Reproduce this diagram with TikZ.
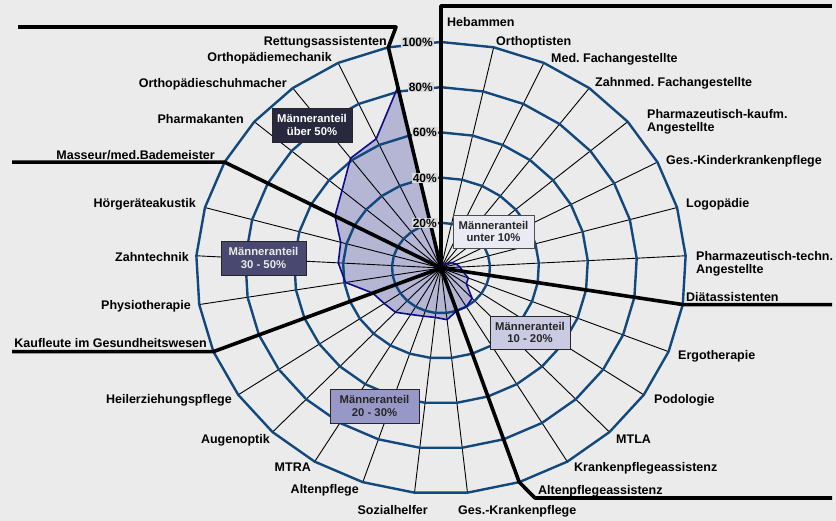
\documentclass[tikz,border=0pt]{standalone}
\usepackage{fontspec}
\setmainfont{Liberation Sans}
\usepackage{tikz}

\definecolor{bgcol}{RGB}{235,235,235}
\definecolor{ringcol}{RGB}{18,72,124}
\definecolor{areacol}{RGB}{181,181,212}
\definecolor{arealine}{RGB}{12,12,140}
\definecolor{pctbg}{RGB}{218,218,218}
\definecolor{grpA}{RGB}{40,40,62}
\definecolor{grpB}{RGB}{72,72,112}
\definecolor{grpC}{RGB}{152,152,200}
\definecolor{grpD}{RGB}{202,202,226}
\definecolor{grpE}{RGB}{234,234,244}

\begin{document}
\begin{tikzpicture}[x=1pt, y=-1pt,
    lab/.style={font=\fontsize{12.5}{13.3}\selectfont\bfseries, inner sep=0pt},
    pct/.style={font=\fontsize{12}{13}\selectfont\bfseries, fill=pctbg, inner sep=1pt, anchor=east},
    grp/.style={draw=black!85, line width=0.9pt, align=center, inner sep=0pt,
        font=\fontsize{11.3}{12.7}\selectfont\bfseries},
    ring/.style={draw=ringcol, line width=2.4pt, line join=round},
    spoke/.style={draw=black, line width=0.9pt},
    sep/.style={draw=black, line width=3.6pt, line join=round}]

  \fill[bgcol] (0,0) rectangle (836,521);
  \useasboundingbox (0,0) rectangle (836,521);

  \coordinate (ctr) at (441,268);
  \coordinate (eL) at (12,0);
  \coordinate (eR) at (832,0);

  % Grid and data
  \begin{scope}[shift={(ctr)}, x=245pt, y=226pt]
    \foreach \i in {0,...,28}
      \coordinate (s\i) at ({90-\i*360/29}:1);
    \foreach \v [count=\i from 0] in {1,3,2,2,3,5,6.5,7.8,9,12,12.5,18.5,20,20,23,22,22.5,24,27,28,30,39.5,42,42.5,49,53,61,63,82}
      \coordinate (d\i) at ({90-\i*360/29}:{\v/100});
    \fill[areacol] (d0) \foreach \i in {1,...,28}{ -- (d\i)} -- cycle;
    \foreach \i in {0,...,28}
      \draw[spoke] (0,0) -- (s\i);
    \foreach \k in {1,...,5}
      \draw[ring] (90:{\k/5}) \foreach \i in {1,...,28}{ -- ({90-\i*360/29}:{\k/5})} -- cycle;
    \draw[arealine, line width=1.6pt, line join=round] (d0) \foreach \i in {1,...,28}{ -- (d\i)} -- cycle;
  \end{scope}

  % Group borders
  \coordinate (h1) at (441,6);
  \coordinate (r1) at (396,27);
  \coordinate (r2) at (18,27);
  \coordinate (a1) at (535,498);
  \draw[sep] (ctr) -- (s0) -- (h1) -- (h1 -| eR);
  \draw[sep] (ctr) -- (s28) -- (r1) -- (r2);
  \draw[sep] (ctr) -- (s24) -- (s24 -| eL);
  \draw[sep] (ctr) -- (s20) -- (s20 -| eL);
  \draw[sep] (ctr) -- (s8) -- (s8 -| eR);
  \draw[sep] (ctr) -- (s13) -- (a1) -- (a1 -| eR);

  % Scale
  \node[pct] (p100) at (434,42) {100\%};
  \node[pct] (p80) at (434,87) {80\%};
  \node[pct] (p60) at (438,132) {60\%};
  \node[pct] (p40) at (438,178) {40\%};
  \node[pct] (p20) at (438,223) {20\%};

  % Labels
  \node[lab, anchor=base west] (l0) at (447,26.5) {Hebammen};
  \node[lab, anchor=base west] (l1) at (496,45.5) {Orthoptisten};
  \node[lab, anchor=base west] (l2) at (551,62.5) {Med.\ Fachangestellte};
  \node[lab, anchor=base west] (l3) at (595,86.5) {Zahnmed.\ Fachangestellte};
  \node[lab, anchor=west, align=left] (l4) at (647,122) {Pharmazeutisch-kaufm.\\Angestellte};
  \node[lab, anchor=base west] (l5) at (666,164.5) {Ges.-Kinderkrankenpflege};
  \node[lab, anchor=base west] (l6) at (686,207.5) {Logopädie};
  \node[lab, anchor=west, align=left] (l7) at (696,264) {Pharmazeutisch-techn.\\Angestellte};
  \node[lab, anchor=base west] (l8) at (686,301.5) {Diätassistenten};
  \node[lab, anchor=base west] (l9) at (678,360) {Ergotherapie};
  \node[lab, anchor=base west] (l10) at (654,403) {Podologie};
  \node[lab, anchor=base west] (l11) at (616,443) {MTLA};
  \node[lab, anchor=base west] (l12) at (574,471.5) {Krankenpflegeassistenz};
  \node[lab, anchor=base west] (l13) at (538,494.5) {Altenpflegeassistenz};
  \node[lab, anchor=base west] (l14) at (458,514.5) {Ges.-Krankenpflege};
  \node[lab, anchor=base east] (l15) at (428,514.5) {Sozialhelfer};
  \node[lab, anchor=base east] (l16) at (359,493.5) {Altenpflege};
  \node[lab, anchor=base east] (l17) at (311,471.5) {MTRA};
  \node[lab, anchor=base east] (l18) at (270,443) {Augenoptik};
  \node[lab, anchor=base east] (l19) at (232,403) {Heilerziehungspflege};
  \node[lab, anchor=base east] (l20) at (207,347.5) {Kaufleute im Gesundheitswesen};
  \node[lab, anchor=base east] (l21) at (191,310) {Physiotherapie};
  \node[lab, anchor=base east] (l22) at (189,261.5) {Zahntechnik};
  \node[lab, anchor=base east] (l23) at (196,208) {Hörgeräteakustik};
  \node[lab, anchor=base east] (l24) at (215,160) {Masseur/med.Bademeister};
  \node[lab, anchor=base east] (l25) at (244,124) {Pharmakanten};
  \node[lab, anchor=base east] (l26) at (287,87.5) {Orthopädieschuhmacher};
  \node[lab, anchor=base east] (l27) at (332,61.5) {Orthopädiemechanik};
  \node[lab, anchor=base east] (l28) at (387,45.5) {Rettungsassistenten};

  % Groups
  \node[grp, fill=grpA, text=white, minimum width=80, minimum height=34] (g50) at (312,125) {Männeranteil\\über 50\%};
  \node[grp, fill=grpB, text=black!8, minimum width=85, minimum height=34] (g30) at (263.5,258) {Männeranteil\\30 - 50\%};
  \node[grp, fill=grpC, text=black!85, minimum width=89, minimum height=34] (g20) at (374.5,406) {Männeranteil\\20 - 30\%};
  \node[grp, fill=grpD, text=black!85, minimum width=80, minimum height=33] (g10) at (530,332.5) {Männeranteil\\10 - 20\%};
  \node[grp, fill=grpE, text=black!85, draw=black!70, minimum width=81, minimum height=33] (g0) at (493.5,231.5) {Männeranteil\\unter 10\%};
\end{tikzpicture}
\end{document}
